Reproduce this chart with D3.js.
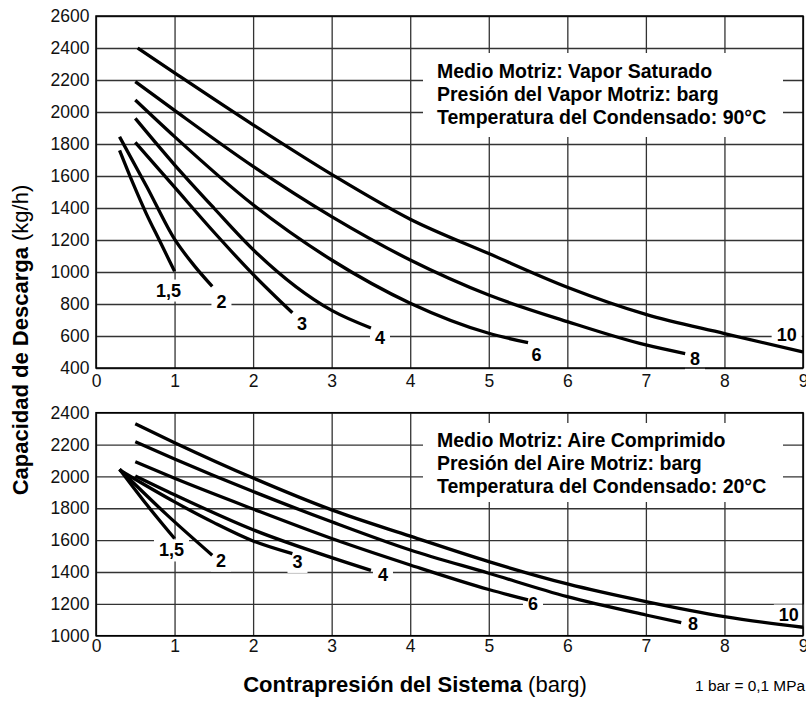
<!DOCTYPE html>
<html><head><meta charset="utf-8">
<script src="https://cdn.jsdelivr.net/npm/d3@7"></script>
<style>
body{margin:0;background:#fff;}
svg{display:block;font-family:"Liberation Sans",Arial,Helvetica,sans-serif;}
</style></head><body>
<svg id="chart" width="806" height="702"></svg>
<script>
// ---------- data ----------
const xTicks = [0,1,2,3,4,5,6,7,8,9];
const yTicksVapor = [400,600,800,1000,1200,1400,1600,1800,2000,2200,2400,2600];
const yTicksAire = [1000,1200,1400,1600,1800,2000,2200,2400];
const curveNames = ["1,5","2","3","4","6","8","10"];

// Vapor saturado (top chart): [contrapresión barg, capacidad kg/h]
const vapor_1_5 = [[0.3,1760],[0.47,1555],[0.64,1365],[0.81,1195],[1.0,1005]];
const vapor_2   = [[0.3,1845],[0.65,1530],[1.0,1205],[1.25,1040],[1.48,910]];
const vapor_3   = [[0.5,1810],[1.0,1530],[1.5,1250],[2.0,985],[2.5,745]];
const vapor_4   = [[0.5,1960],[1.0,1670],[1.5,1400],[2.0,1140],[3.0,760],[3.5,650]];
const vapor_6   = [[0.5,2075],[1.0,1846],[2.0,1420],[3.0,1075],[4.0,805],[5.0,617],[5.5,558]];
const vapor_8   = [[0.5,2190],[1.0,2010],[2.0,1660],[3.0,1346],[4.0,1075],[5.0,856],[6.0,690],[7.0,544],[7.5,490]];
const vapor_10  = [[0.53,2400],[1.0,2245],[2.0,1920],[3.0,1610],[4.0,1330],[5.0,1115],[6.0,905],[7.0,735],[8.0,615],[9.0,500]];

// Aire comprimido (bottom chart)
const aire_1_5 = [[0.3,2045],[0.65,1820],[1.0,1610]];
const aire_2   = [[0.3,2045],[0.9,1760],[1.48,1505]];
const aire_3   = [[0.3,2040],[1.0,1840],[1.5,1710],[2.0,1595],[2.5,1515]];
const aire_4   = [[0.5,2003],[1.0,1885],[2.0,1665],[3.0,1490],[3.5,1410]];
const aire_6   = [[0.5,2092],[1.0,1988],[2.0,1795],[3.0,1610],[4.0,1444],[5.0,1290],[5.5,1225]];
const aire_8   = [[0.5,2218],[1.0,2110],[2.0,1905],[3.0,1715],[4.0,1538],[5.0,1392],[6.0,1245],[7.0,1130],[7.45,1082]];
const aire_10  = [[0.5,2330],[1.0,2212],[2.0,1990],[3.0,1790],[4.0,1625],[5.0,1465],[6.0,1325],[7.0,1214],[8.0,1120],[9.0,1053]];

const vaporSeries = [vapor_1_5,vapor_2,vapor_3,vapor_4,vapor_6,vapor_8,vapor_10];
const aireSeries  = [aire_1_5,aire_2,aire_3,aire_4,aire_6,aire_8,aire_10];

const vaporNote = ["Medio Motriz: Vapor Saturado","Presión del Vapor Motriz: barg","Temperatura del Condensado: 90°C"];
const aireNote  = ["Medio Motriz: Aire Comprimido","Presión del Aire Motriz: barg","Temperatura del Condensado: 20°C"];

// ---------- layout (positions in data units for labels) ----------
const vaporLabelAt = [[0.923,887],[1.597,816],[2.622,678],[3.615,591],[5.607,484],[7.625,459],[8.792,612]];
const aireLabelAt  = [[0.961,1538],[1.591,1475],[2.565,1466],[3.653,1384],[5.563,1202],[7.6,1077],[8.82,1130]];

const svg = d3.select("#chart");
const X0 = 96, X1 = 803;
const FONT = '"Liberation Sans",Arial,Helvetica,sans-serif';

function panel(cfg){
  const x = d3.scaleLinear().domain([0,9]).range([X0,X1]);
  const y = d3.scaleLinear().domain(cfg.yDomain).range([cfg.bottom,cfg.top]);
  const g = svg.append("g");

  // grid
  const gx = g.append("g").attr("transform",`translate(0,${cfg.bottom})`)
    .call(d3.axisBottom(x).tickValues(xTicks).tickSize(-(cfg.bottom-cfg.top)).tickFormat(""));
  const gy = g.append("g").attr("transform",`translate(${X0},0)`)
    .call(d3.axisLeft(y).tickValues(cfg.yTicks).tickSize(-(X1-X0)).tickFormat(""));
  [gx,gy].forEach(a=>{a.select(".domain").remove();a.selectAll("line").attr("stroke","#333").attr("stroke-width",1.3);});

  // annotation box
  g.append("rect").attr("x",423).attr("y",cfg.noteTop).attr("width",360).attr("height",cfg.noteH).attr("fill","#fff");
  const nt = g.append("text").attr("font-family",FONT).attr("font-weight","bold").attr("font-size",19.5).attr("fill","#000");
  cfg.note.forEach((s,i)=>nt.append("tspan").attr("x",437).attr("y",cfg.noteBase+i*23).text(s));

  // labels with white backgrounds
  const lab = g.append("g");
  cfg.labels.forEach((p,i)=>{
    const t = lab.append("text").attr("x",x(p[0])).attr("y",y(p[1])).attr("dy","0.36em")
      .attr("text-anchor","middle").attr("font-family",FONT).attr("font-weight","bold").attr("font-size",18)
      .text(curveNames[i]);
    const b = t.node().getBBox();
    lab.insert("rect","text").attr("x",b.x-5).attr("y",b.y-1).attr("width",b.width+10).attr("height",b.height+2).attr("fill","#fff");
  });

  // frame
  g.append("rect").attr("x",X0).attr("y",cfg.top).attr("width",X1-X0).attr("height",cfg.bottom-cfg.top)
    .attr("fill","none").attr("stroke","#000").attr("stroke-width",1.5);

  // curves
  const line = d3.line().x(d=>x(d[0])).y(d=>y(d[1])).curve(d3.curveMonotoneX);
  g.append("g").selectAll("path").data(cfg.series).join("path")
    .attr("d",line).attr("fill","none").attr("stroke","#000").attr("stroke-width",3.3).attr("stroke-linecap","butt");

  // tick labels
  const ax = g.append("g").attr("transform",`translate(0,${cfg.bottom})`)
    .call(d3.axisBottom(x).tickValues(xTicks).tickSize(0).tickPadding(cfg.xPad).tickFormat(d3.format("d")));
  const ay = g.append("g").attr("transform",`translate(${X0},0)`)
    .call(d3.axisLeft(y).tickValues(cfg.yTicks).tickSize(0).tickPadding(6.5).tickFormat(d3.format("d")));
  [ax,ay].forEach(a=>{a.select(".domain").remove();a.attr("font-family",FONT).attr("font-size",17.5);a.selectAll("text").attr("fill","#111");});
}

panel({yDomain:[400,2600],yTicks:yTicksVapor,top:16,bottom:368,series:vaporSeries,labels:vaporLabelAt,
  note:vaporNote,noteTop:53,noteH:84,noteBase:77.5,xPad:6.5});
panel({yDomain:[1000,2400],yTicks:yTicksAire,top:412.7,bottom:635.7,series:aireSeries,labels:aireLabelAt,
  note:aireNote,noteTop:423,noteH:79,noteBase:447,xPad:3.5});

// axis titles
const yt = svg.append("text").attr("transform","translate(28,340) rotate(-90)").attr("text-anchor","middle")
  .attr("font-family",FONT).attr("font-size",22).attr("fill","#000");
yt.append("tspan").attr("font-weight","bold").text("Capacidad de Descarga ");
yt.append("tspan").text("(kg/h)");

const xt = svg.append("text").attr("x",415).attr("y",692).attr("text-anchor","middle")
  .attr("font-family",FONT).attr("font-size",22).attr("fill","#000");
xt.append("tspan").attr("font-weight","bold").text("Contrapresión del Sistema ");
xt.append("tspan").text("(barg)");

svg.append("text").attr("x",805).attr("y",691).attr("text-anchor","end")
  .attr("font-family",FONT).attr("font-size",15.4).attr("fill","#000").text("1 bar = 0,1 MPa");
</script>
</body></html>
